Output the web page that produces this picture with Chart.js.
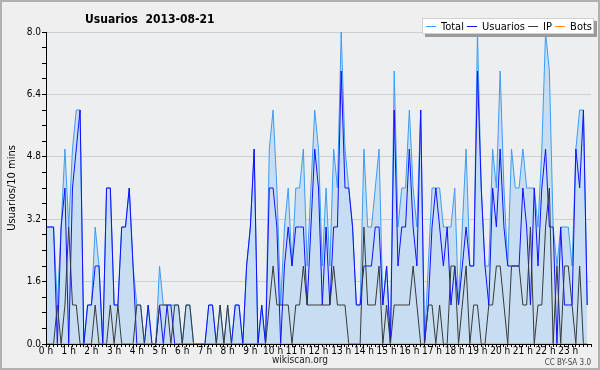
<!DOCTYPE html>
<html>
<head>
<meta charset="utf-8">
<script src="https://cdn.jsdelivr.net/npm/chart.js@4.4.1/dist/chart.umd.min.js"></script>
<style>
  body { margin: 0; background: #fff; }
  #wrap { position: relative; width: 600px; height: 370px; box-sizing: border-box;
          border: 2px solid #b0b0b0; background: #efefef;
          font-family: "DejaVu Sans Condensed", "DejaVu Sans", sans-serif; }
  #chart { position: absolute; left: -2px; top: -2px; }
  .title { position: absolute; left: 83px; top: 10px; font-weight: bold; font-size: 12px; white-space: pre; }
  .legend { position: absolute; left: 420px; top: 16px; width: 166px; height: 14px; padding: 0 1px 0 3px;
            background: #fff; border: 1px solid #d0d0d0; box-shadow: 3px 3px 0 #9a9a9a; font-size: 11px;
            display: flex; align-items: center; justify-content: space-between; }
  .legend span.item { display: flex; align-items: center; white-space: nowrap; }
  .legend i { display: inline-block; width: 10px; height: 0; border-top: 1px solid; margin-right: 5px; }
  .source { position: absolute; left: 0; width: 596px; top: 352px; text-align: center; font-size: 10px; color: #222; }
  .licence { position: absolute; right: 7px; top: 356px; font-size: 8px; color: #444; }
</style>
</head>
<body>
<div id="wrap">
  <canvas id="chart" width="600" height="370"></canvas>
  <div class="title">Usuarios  2013-08-21</div>
  <div class="legend" id="legend"></div>
  <div class="source">wikiscan.org</div>
  <div class="licence">CC BY-SA 3.0</div>
</div>
<script>
// one value per 10 minutes, 144 slots
const total = [3,3,3,1,3,5,3,5,6,6, 0,1,1,3,2,0,4,4,1,1, 3,3,4,2,1,1,0,1,0,0,
  2,1,1,1,1,1,0,1,1,0, 0,0,0,1,1,0,1,0,1,0, 1,1,0,2,3,5,0,1,0,5,
  6,4,1,3,4,2,4,4,5,2, 4,6,5,2,4,2,5,4,8,5, 4,3,1,1,5,3,3,4,5,1,
  2,0,7,3,4,4,6,4,3,6, 0,2,4,4,4,3,3,3,4,1, 3,5,2,2,8,4,2,2,5,4,
  7,4,2,5,4,4,5,4,4,4, 3,5,8,7,3,2,3,3,3,2, 5,6,6,1];
const usuarios = [3,3,3,0,3,4,0,4,5,6, 0,1,1,2,2,0,4,4,1,1, 3,3,4,2,0,0,0,1,0,0,
  1,0,1,1,0,0,0,0,0,0, 0,0,0,1,1,0,0,0,0,0, 1,1,0,2,3,5,0,1,0,4,
  4,3,0,2,3,2,3,3,3,1, 3,5,4,1,3,1,3,3,7,4, 4,3,1,1,2,2,2,3,3,1,
  2,0,6,2,3,3,5,3,2,6, 0,1,3,4,3,2,3,1,2,1, 2,3,2,2,7,4,2,1,4,3,
  5,3,2,2,2,2,4,3,1,4, 2,4,5,3,3,0,3,1,1,1, 5,4,6,1];
const ip = [0,0,0,1,0,1,3,1,1,0, 0,0,0,1,0,0,0,1,0,1, 0,0,0,0,1,1,0,0,0,0,
  1,1,1,0,1,1,0,1,1,0, 0,0,0,0,0,0,1,0,1,0, 0,0,0,0,0,0,0,0,0,1,
  2,1,1,1,1,0,1,1,2,1, 1,1,1,1,1,1,2,1,1,1, 0,0,0,0,3,1,1,1,2,0,
  1,0,1,1,1,1,1,2,1,0, 0,1,1,0,1,0,0,2,2,0, 1,2,0,1,1,0,0,1,1,2,
  2,1,0,2,2,2,1,1,3,0, 1,1,3,4,0,2,0,2,2,1, 0,2,0,0];
const bots = new Array(144).fill(0);

const hourLabels = ['0 h','1 h','2 h','3 h','4 h','5 h','6 h','7 h','8 h','9 h','10 h','11 h',
  '12 h','13 h','14 h','15 h','16 h','17 h','18 h','19 h','20 h','21 h','22 h','23 h'];
const yTickLabels = ['0.0','1.6','3.2','4.8','6.4','8.0'];

const series = [
  { label: 'Total', data: total, color: '#3d9cf5' },
  { label: 'Usuarios', data: usuarios, color: '#1010ff' },
  { label: 'IP', data: ip, color: '#3a3a3a' },
  { label: 'Bots', data: bots, color: '#ff9900' }
];

function isStep(v, step) {
  const r = v / step;
  return Math.abs(r - Math.round(r)) < 1e-6;
}

// plot background
const plotBg = {
  id: 'plotBg',
  beforeDraw(chart) {
    const a = chart.chartArea, ctx = chart.ctx;
    ctx.save();
    ctx.fillStyle = '#eceef0';
    ctx.fillRect(a.left, a.top, a.right - a.left, a.bottom - a.top);
    ctx.restore();
  }
};

const datasets = series.map((s, n) => ({
  label: s.label,
  data: s.data.map((v, i) => ({ x: i / 6, y: v })),
  borderColor: s.color,
  borderWidth: 1,
  pointRadius: 0,
  tension: 0,
  fill: n === 0 ? 'origin' : false,
  backgroundColor: n === 0 ? '#c7ddf1' : s.color,
  order: series.length - n
}));

const tickFont = { size: 10, family: '"DejaVu Sans Condensed", "DejaVu Sans", sans-serif' };

new Chart(document.getElementById('chart'), {
  type: 'line',
  data: { datasets: datasets },
  plugins: [plotBg],
  options: {
    responsive: false,
    animation: false,
    layout: { padding: { left: 6, right: 9, top: 32, bottom: 0 } },
    plugins: { legend: { display: false }, tooltip: { enabled: false } },
    scales: {
      x: {
        type: 'linear',
        min: 0,
        max: 24,
        afterFit(scale) { scale.height = 26; },
        border: { color: '#000', width: 1, z: 1 },
        grid: { drawOnChartArea: false, tickColor: '#000', tickLength: 3 },
        ticks: {
          stepSize: 1 / 6,
          autoSkip: false,
          maxRotation: 0,
          padding: -2,
          color: '#000',
          font: tickFont,
          callback: v => (isStep(v, 1) && v < 24) ? hourLabels[Math.round(v)] : ''
        }
      },
      y: {
        min: 0,
        max: 8,
        afterFit(scale) { scale.width = 40; },
        border: { color: '#000', width: 1, z: 1 },
        grid: {
          color: ctx => (ctx.tick && isStep(ctx.tick.value, 1.6)) ? '#cfcfcf' : 'rgba(0,0,0,0)',
          tickColor: '#000',
          tickLength: 4
        },
        ticks: {
          stepSize: 0.4,
          autoSkip: false,
          padding: 1,
          color: '#000',
          font: tickFont,
          callback: v => isStep(v, 1.6) ? yTickLabels[Math.round(v / 1.6)] : ''
        },
        title: {
          display: true,
          text: 'Usuarios/10 mins',
          color: '#000',
          padding: 0,
          font: { size: 11, family: '"DejaVu Sans Condensed", "DejaVu Sans", sans-serif' }
        }
      }
    }
  }
});

// legend drawn as html, same colours as the datasets
const legend = document.getElementById('legend');
series.forEach(s => {
  const item = document.createElement('span');
  item.className = 'item';
  item.innerHTML = '<i style="border-color:' + s.color + '"></i>' + s.label;
  legend.appendChild(item);
});
</script>
</body>
</html>
